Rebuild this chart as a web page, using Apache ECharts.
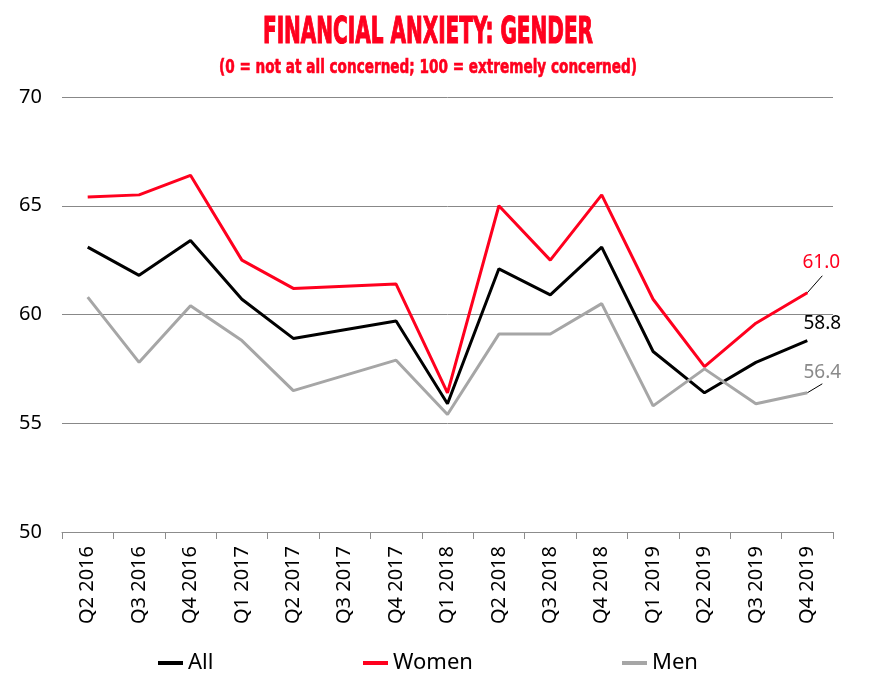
<!DOCTYPE html>
<html>
<head>
<meta charset="utf-8">
<script src="https://cdn.jsdelivr.net/npm/echarts@6/dist/echarts.min.js"></script>
<style>html,body{margin:0;padding:0;background:#fff}#c{width:870px;height:686px}</style>
</head>
<body>
<div id="c"></div>
<script>
const categories = ['Q2 2016','Q3 2016','Q4 2016','Q1 2017','Q2 2017','Q3 2017','Q4 2017','Q1 2018','Q2 2018','Q3 2018','Q4 2018','Q1 2019','Q2 2019','Q3 2019','Q4 2019'];
const allValues   = [63.1, 61.8, 63.4, 60.7, 58.9, 59.3, 59.7, 55.9, 62.1, 60.9, 63.1, 58.3, 56.4, 57.8, 58.8];
const womenValues = [65.4, 65.5, 66.4, 62.5, 61.2, 61.3, 61.4, 56.4, 65.0, 62.5, 65.5, 60.7, 57.6, 59.6, 61.0];
const menValues   = [60.8, 57.8, 60.4, 58.8, 56.5, 57.2, 57.9, 55.4, 59.1, 59.1, 60.5, 55.8, 57.5, 55.9, 56.4];
const seriesNames = ['All', 'Women', 'Men'];
const yTicks = {min: 50, max: 70, interval: 5};
const titleText = 'FINANCIAL ANXIETY: GENDER';
const subtitleText = '(0 = not at all concerned; 100 = extremely concerned)';

const RED = '#FF001E', BLACK = '#000000', GRAY = '#A6A6A6';
const FONT = '"Noto Sans", "Open Sans", sans-serif';
const TFONT = '"DejaVu Sans Condensed", "DejaVu Sans", sans-serif';

const chart = echarts.init(document.getElementById('c'), null, {renderer: 'canvas'});

function withEndLabel(values, color, offset) {
  return values.map((v, i) => {
    if (i !== values.length - 1) return v;
    return {
      value: v,
      label: {
        show: true, position: 'inside', offset: offset,
        formatter: (p) => p.value.toFixed(1),
        color: color, fontSize: 19, fontFamily: FONT
      }
    };
  });
}

function lineSeries(name, values, color, labelColor, offset) {
  return {
    name: name, type: 'line', data: withEndLabel(values, labelColor, offset),
    symbol: 'circle', symbolSize: 0, showSymbol: true,
    lineStyle: {color: color, width: 3}, itemStyle: {color: color},
    label: {show: false}, emphasis: {disabled: true}, animation: false
  };
}

const legendBase = {
  orient: 'horizontal', top: 652, padding: 0, icon: 'rect',
  itemWidth: 25, itemHeight: 4, itemGap: 0,
  textStyle: {fontSize: 22, fontFamily: FONT, color: '#000', padding: [0, 0, 0, 0]},
  selectedMode: false
};

chart.setOption({
  animation: false,
  grid: {left: 62, right: 37, top: 97, bottom: 154, containLabel: false},
  legend: [
    Object.assign({}, legendBase, {left: 158, data: [seriesNames[0]]}),
    Object.assign({}, legendBase, {left: 363, data: [seriesNames[1]]}),
    Object.assign({}, legendBase, {left: 622, data: [seriesNames[2]]})
  ],
  xAxis: {
    type: 'category', data: categories, boundaryGap: true,
    axisLine: {show: true, lineStyle: {color: '#8c8c8c', width: 1}},
    axisTick: {show: true, interval: 0, length: 7, lineStyle: {color: '#8c8c8c'}},
    axisLabel: {rotate: 90, interval: 0, fontSize: 20, fontFamily: FONT, color: '#000', margin: 14}
  },
  yAxis: {
    type: 'value', min: yTicks.min, max: yTicks.max, interval: yTicks.interval,
    axisLine: {show: false}, axisTick: {show: false},
    splitLine: {show: true, lineStyle: {color: '#888888', width: 1}},
    axisLabel: {fontSize: 20, fontFamily: FONT, color: '#000', margin: 20}
  },
  series: [
    lineSeries(seriesNames[0], allValues, BLACK, BLACK, [15, -17]),
    lineSeries(seriesNames[1], womenValues, RED, RED, [14, -30]),
    lineSeries(seriesNames[2], menValues, GRAY, '#8a8a8a', [15, -20])
  ]
});

// title as condensed text (scaled horizontally to the target width)
const cv = document.createElement('canvas').getContext('2d');
function scaleFor(text, font, target) {
  cv.font = font;
  return target / cv.measureText(text).width;
}
const tSize = 38, sSize = 20;
const tScale = scaleFor(titleText, 'bold ' + tSize + 'px ' + TFONT, 330);
const sScale = scaleFor(subtitleText, 'bold ' + sSize + 'px ' + TFONT, 418);

// leader lines from last points of Women and Men
const last = categories.length - 1;
const pW = chart.convertToPixel({seriesIndex: 1}, [last, womenValues[last]]);
const pM = chart.convertToPixel({seriesIndex: 2}, [last, menValues[last]]);

chart.setOption({
  graphic: [
    {type: 'text', id: 't1', x: 428, y: 33, scaleX: tScale,
     style: {text: titleText, fontSize: tSize, fontWeight: 'bold', fontFamily: TFONT, fill: RED, stroke: RED, lineWidth: 1.2, align: 'center', verticalAlign: 'middle'}},
    {type: 'text', id: 't2', x: 428, y: 68, scaleX: sScale,
     style: {text: subtitleText, fontSize: sSize, fontWeight: 'bold', fontFamily: TFONT, fill: RED, stroke: RED, lineWidth: 0.6, align: 'center', verticalAlign: 'middle'}},
    {type: 'line', id: 'lw', shape: {x1: pW[0], y1: pW[1], x2: pW[0] + 15, y2: pW[1] - 17}, style: {stroke: '#000', lineWidth: 1}},
    {type: 'line', id: 'lm', shape: {x1: pM[0], y1: pM[1], x2: pM[0] + 15, y2: pM[1] - 9}, style: {stroke: '#000', lineWidth: 1}}
  ]
});
</script>
</body>
</html>
